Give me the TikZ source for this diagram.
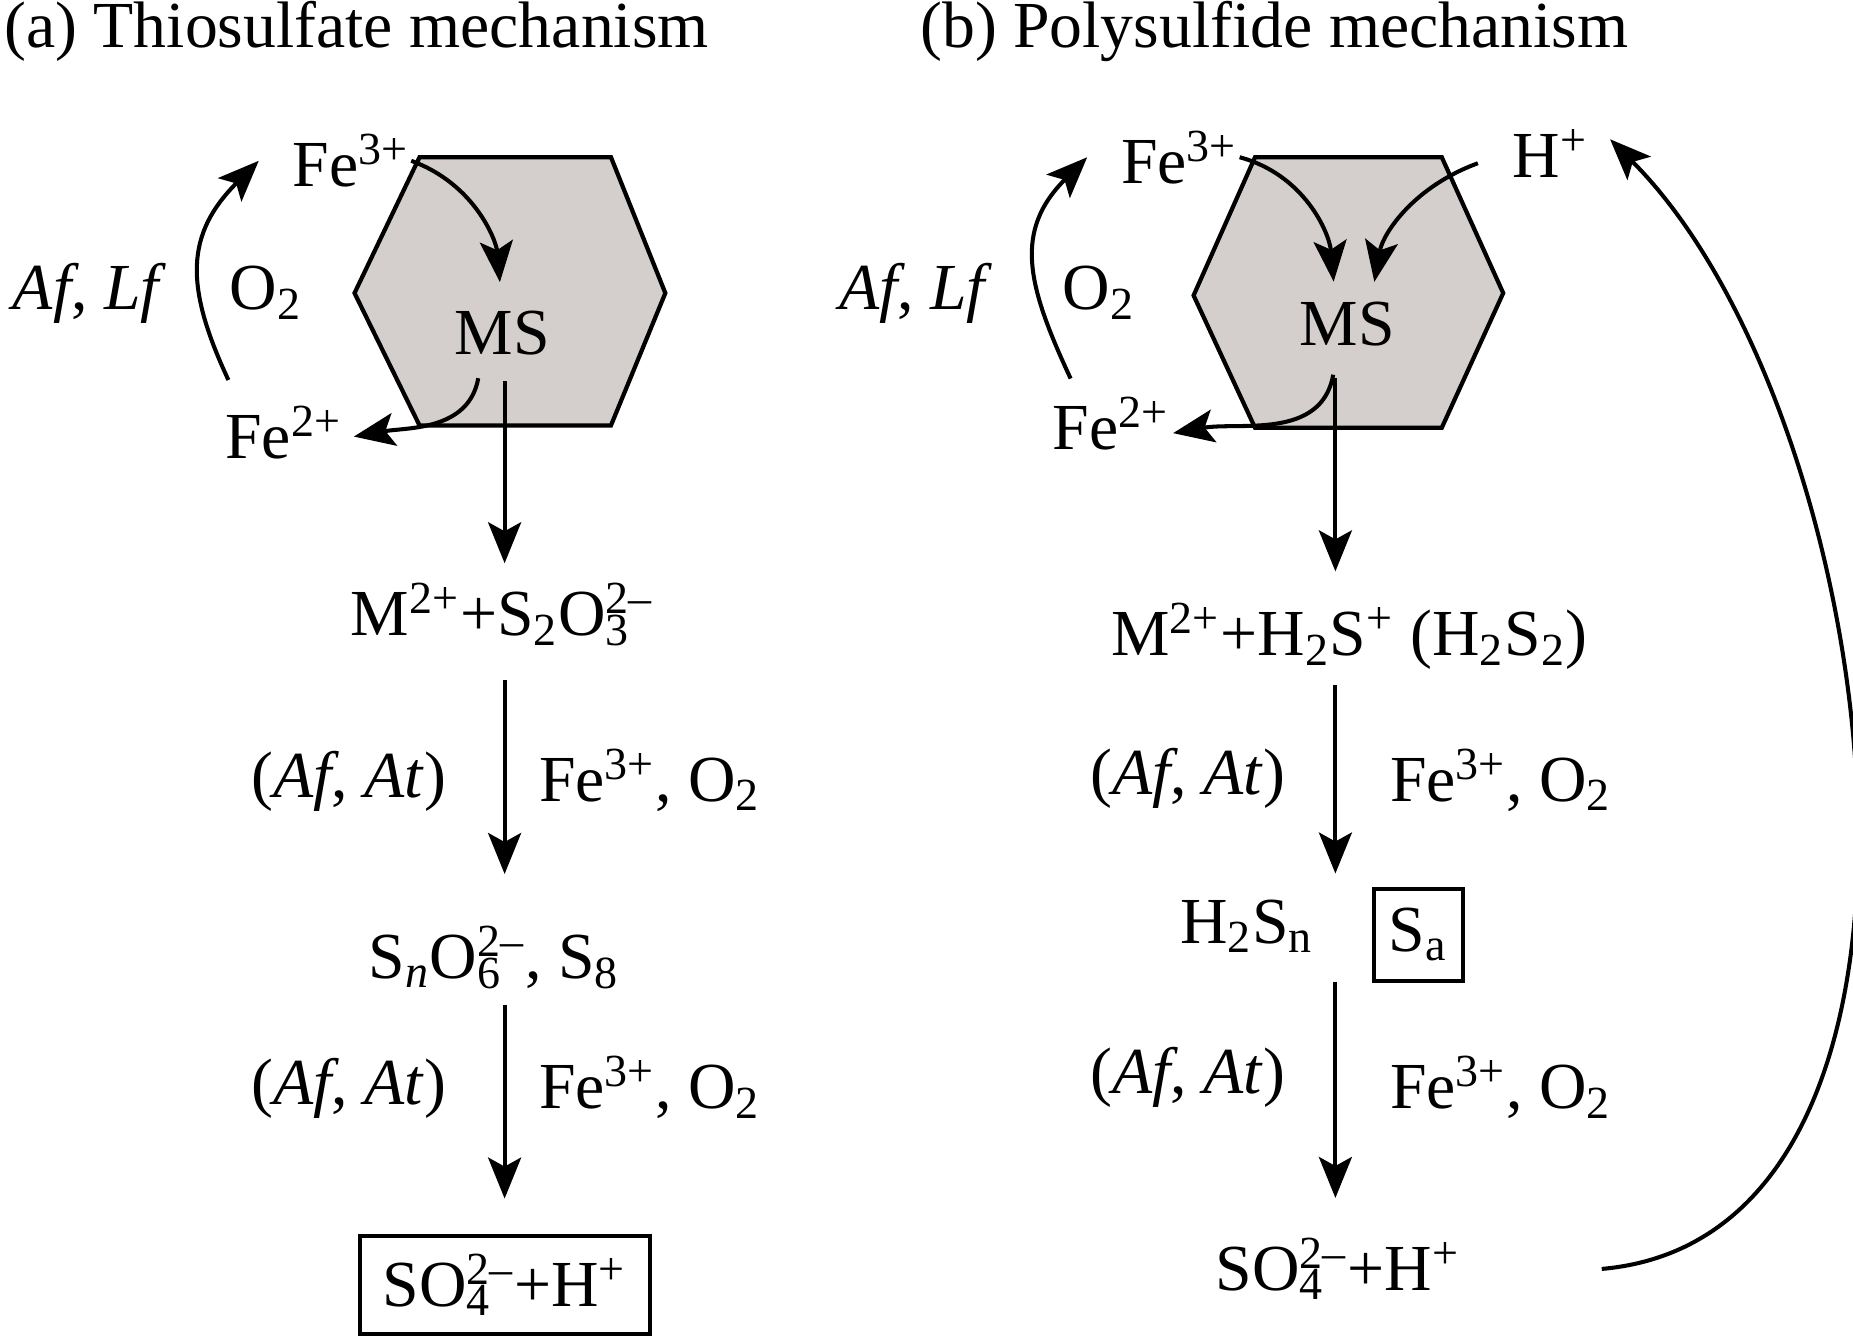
\documentclass[tikz,border=0pt]{standalone}
\usepackage{fontspec}
\setmainfont{Liberation Serif}
\usetikzlibrary{arrows.meta}
\definecolor{msgray}{RGB}{212,206,204}
\newcommand\ion[2]{\makebox[0pt][l]{\textsubscript{#1}}\textsuperscript{#2}}
\tikzstyle{every node}=[inner sep=0pt, font=\fontsize{18.7}{22}\selectfont]
\tikzstyle{chem}=[anchor=base]
\tikzstyle{arr}=[-{Stealth[length=4.1mm, width=3.3mm, inset=0.9mm]}]
\tikzstyle{hexa}=[fill=msgray, draw, line width=1.2pt]

\begin{document}
\begin{tikzpicture}[x=0.1182mm, y=-0.1182mm, line width=1.15pt]
\useasboundingbox (0,0) rectangle (1568,1131);
% Titles
  \node[anchor=base west] (ta) at (2,40) {(a) Thiosulfate mechanism};
  \node[anchor=base west] (tb) at (777,40) {(b) Polysulfide mechanism};
% Mineral sulfide grains
  \draw[hexa] (355,133) -- (517,133) -- (563,248) -- (517,360) -- (355,360) -- (300,248) -- cycle;
  \draw[hexa] (1062,133) -- (1220,133) -- (1272,248) -- (1220,362) -- (1062,362) -- (1010,250) -- cycle;
  \coordinate (axa) at (427,0);
  \coordinate (axb) at (1130,0);
% (a) Thiosulfate
  \node[chem] (fe3a) at (297,158) {Fe\textsuperscript{3+}};
  \node[chem] (msa) at (425,300) {MS};
  \node[chem] (fe2a) at (240,388) {Fe\textsuperscript{2+}};
  \node[chem] (afa) at (76,262) {\textit{Af}, \textit{Lf}};
  \node[chem] (o2a) at (225,262) {O\textsubscript{2}};
  \node[chem] (ma) at (425,538) {M\textsuperscript{2+}+S\textsubscript{2}O\ion{3}{2–}};
  \node[chem] (l1a) at (295,675) {(\textit{Af}, \textit{At})};
  \node[chem] (r1a) at (550,678) {Fe\textsuperscript{3+}, O\textsubscript{2}};
  \node[chem] (sna) at (418,828) {S\textsubscript{\textit{n}}O\ion{6}{2–}, S\textsubscript{8}};
  \node[chem] (l2a) at (295,935) {(\textit{Af}, \textit{At})};
  \node[chem] (r2a) at (550,938) {Fe\textsuperscript{3+}, O\textsubscript{2}};
  \node[draw, minimum width=29mm, minimum height=9.8mm] (soa) at (427,1087) {SO\ion{4}{2–}+H\textsuperscript{+}};
% (b) Polysulfide
  \node[chem] (fe3b) at (998,155) {Fe\textsuperscript{3+}};
  \node[chem] (hb) at (1312,150) {H\textsuperscript{+}};
  \node[chem] (msb) at (1140,292) {MS};
  \node[chem] (fe2b) at (940,380) {Fe\textsuperscript{2+}};
  \node[chem] (afb) at (775,262) {\textit{Af}, \textit{Lf}};
  \node[chem] (o2b) at (930,262) {O\textsubscript{2}};
  \node[chem] (mb) at (1142,555) {M\textsuperscript{2+}+H\textsubscript{2}S\textsuperscript{+} (H\textsubscript{2}S\textsubscript{2})};
  \node[chem] (l1b) at (1005,672) {(\textit{Af}, \textit{At})};
  \node[chem] (r1b) at (1270,678) {Fe\textsuperscript{3+}, O\textsubscript{2}};
  \node[chem] (hsb) at (1055,798) {H\textsubscript{2}S\textsubscript{n}};
  \node[draw, minimum width=8.9mm, minimum height=9.2mm] (sab) at (1200,791) {S\textsubscript{a}};
  \node[chem] (l2b) at (1005,925) {(\textit{Af}, \textit{At})};
  \node[chem] (r2b) at (1270,938) {Fe\textsuperscript{3+}, O\textsubscript{2}};
  \node[chem] (sob) at (1132,1092) {SO\ion{4}{2–}+H\textsuperscript{+}};
% Arrows (a)
  \draw[arr] ([xshift=0.5mm,yshift=2.4mm]fe2a.north west) to[out=115, in=225, looseness=1.2] ([xshift=-3.2mm]fe3a.west);
  \draw[arr, shorten >=2.7mm] (fe3a.east) to[out=-20, in=95] (msa.north);
  \draw[arr] ([xshift=-2.4mm,yshift=-2.1mm]msa.south) to[out=-100, in=10] ([xshift=1mm,yshift=-0.4mm]fe2a.east);
  \draw[arr, shorten <=2.4mm, shorten >=1.8mm] (msa.south -| axa) -- (ma.north -| axa);
  \draw[arr, shorten <=3.2mm, shorten >=5mm] (ma.south -| axa) -- (sna.north -| axa);
  \draw[arr, shorten <=1.4mm, shorten >=3.5mm] (sna.south -| axa) -- (soa.north -| axa);
% Arrows (b)
  \draw[arr] ([xshift=2mm,yshift=1.6mm]fe2b.north west) to[out=115, in=225, looseness=1.2] ([xshift=-3.2mm]fe3b.west);
  \draw[arr, shorten >=1.8mm] (fe3b.east) to[out=-15, in=95] ([xshift=-1.2mm]msb.north);
  \draw[arr, shorten >=1.8mm] ([xshift=-3.3mm,yshift=-1mm]hb.west) to[out=200, in=80] ([xshift=2.4mm]msb.north);
  \draw[arr] ([xshift=-1.4mm,yshift=-2.7mm]msb.south) to[out=-100, in=10] ([xshift=0.2mm,yshift=-1mm]fe2b.east);
  \draw[arr, shorten <=3mm, shorten >=3mm] (msb.south -| axb) -- (mb.north -| axb);
  \draw[arr, shorten <=1.3mm, shorten >=2.4mm] (mb.south -| axb) -- (hsb.north -| axb);
  \draw[arr, shorten <=2.7mm, shorten >=3.8mm] (hsb.south -| axb) -- (sob.north -| axb);
  \draw[arr] ([xshift=14mm]sob.east) to[out=5, in=-45, looseness=0.88] ([xshift=2mm,yshift=1.4mm]hb.east);
\end{tikzpicture}
\end{document}
